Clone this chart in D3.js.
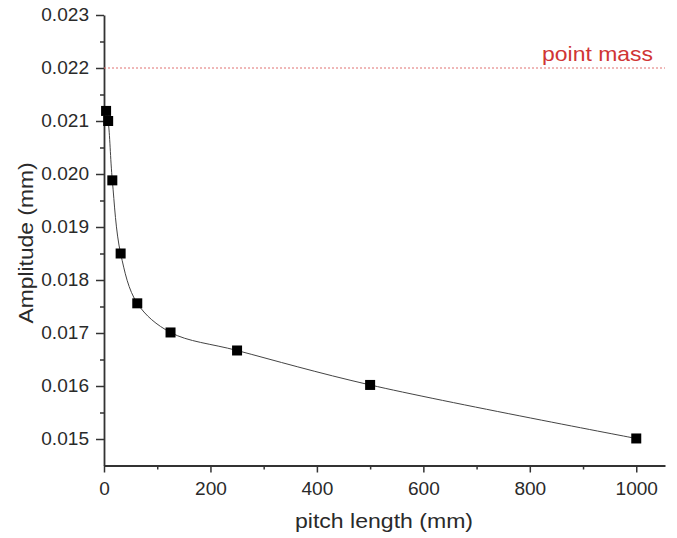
<!DOCTYPE html>
<html lang="en">
<head>
    <meta charset="utf-8" />
    <title>Amplitude vs pitch length</title>
    <script src="https://d3js.org/d3.v7.min.js"></script>
    <style>
        body { margin: 0; background: #fff; }
        text { font-family: "Liberation Sans", Arial, sans-serif; fill: #2a2a2a; }
    </style>
</head>
<body>
    <div id="chart"></div>
    <script>
        // data
        const pitchLength = [3.90625, 7.8125, 15.625, 31.25, 62.5, 125, 250, 500, 1000];
        const amplitude = [0.02119, 0.02100, 0.01988, 0.01850, 0.01756, 0.01701, 0.01667, 0.01602, 0.01501];
        const pointMass = 0.022;
        const xTicks = [0, 200, 400, 600, 800, 1000];
        const yTicks = [0.015, 0.016, 0.017, 0.018, 0.019, 0.020, 0.021, 0.022, 0.023];

        const W = 677, H = 538;
        const svg = d3.select("#chart").append("svg")
            .attr("width", W)
            .attr("height", H);

        const x = d3.scaleLinear().domain([0, 1054]).range([104, 665]);
        const y = d3.scaleLinear().domain([0.0145, 0.023]).range([465.5, 15]);

        const data = pitchLength.map((p, i) => ({ p: p, a: amplitude[i] }));

        // stretch text a little, the original font is wider than Arial
        function stretch(sel, k) {
            sel.each(function () {
                const w = this.getComputedTextLength();
                d3.select(this).attr("textLength", w * k).attr("lengthAdjust", "spacingAndGlyphs");
            });
        }

        // minor ticks first
        const xMinor = d3.range(100, 1001, 200);
        const yMinor = d3.range(0.0155, 0.0226, 0.001);

        svg.append("g")
            .attr("transform", `translate(0,${y(0.0145)})`)
            .call(d3.axisBottom(x).tickValues(xMinor).tickSize(4).tickFormat(""))
            .call(g => g.select(".domain").remove())
            .call(g => g.selectAll("line").attr("stroke", "#333").attr("stroke-width", 1.5));

        svg.append("g")
            .attr("transform", `translate(${x(0)},0)`)
            .call(d3.axisLeft(y).tickValues(yMinor).tickSize(4).tickFormat(""))
            .call(g => g.select(".domain").remove())
            .call(g => g.selectAll("line").attr("stroke", "#333").attr("stroke-width", 1.5));

        // major axes
        const gx = svg.append("g")
            .attr("transform", `translate(0,${y(0.0145)})`)
            .call(d3.axisBottom(x).tickValues(xTicks).tickSize(7).tickSizeOuter(0).tickPadding(10).tickFormat(d3.format("d")));
        gx.select(".domain").attr("stroke", "#333").attr("stroke-width", 1.8);
        gx.selectAll("line").attr("stroke", "#333").attr("stroke-width", 1.5);
        gx.selectAll("text").attr("font-size", 17.5).attr("fill", "#2a2a2a").attr("font-family", "Liberation Sans, Arial, sans-serif");

        const gy = svg.append("g")
            .attr("transform", `translate(${x(0)},0)`)
            .call(d3.axisLeft(y).tickValues(yTicks).tickSize(8).tickSizeOuter(0).tickPadding(7).tickFormat(d3.format(".3f")));
        gy.select(".domain").attr("stroke", "#333").attr("stroke-width", 1.8);
        gy.selectAll("line").attr("stroke", "#333").attr("stroke-width", 1.5);
        gy.selectAll("text").attr("font-size", 17.5).attr("fill", "#2a2a2a").attr("font-family", "Liberation Sans, Arial, sans-serif");

        stretch(gx.selectAll("text"), 1.09);
        stretch(gy.selectAll("text"), 1.09);

        // point mass reference line
        svg.append("line")
            .attr("x1", x(0)).attr("x2", x(1054))
            .attr("y1", y(pointMass)).attr("y2", y(pointMass))
            .attr("stroke", "#e07070")
            .attr("stroke-width", 1)
            .attr("stroke-dasharray", "2,2");

        svg.append("text")
            .attr("x", 653)
            .attr("y", y(pointMass) - 7)
            .attr("text-anchor", "end")
            .attr("font-size", 21)
            .style("fill", "#d03535")
            .text("point mass")
            .attr("textLength", 111)
            .attr("lengthAdjust", "spacingAndGlyphs");

        // curve (close to straight segments like the original)
        const line = d3.line()
            .x(d => x(d.p))
            .y(d => y(d.a))
            .curve(d3.curveCatmullRom.alpha(0.5));

        svg.append("path")
            .datum(data)
            .attr("fill", "none")
            .attr("stroke", "#444")
            .attr("stroke-width", 1)
            .attr("d", line);

        // square markers
        svg.selectAll(".pt")
            .data(data)
            .enter().append("rect")
            .attr("class", "pt")
            .attr("x", d => x(d.p) - 5)
            .attr("y", d => y(d.a) - 5)
            .attr("width", 10)
            .attr("height", 10)
            .attr("fill", "#000");

        // axis titles
        svg.append("text")
            .attr("x", 384)
            .attr("y", 528)
            .attr("text-anchor", "middle")
            .attr("font-size", 21)
            .text("pitch length (mm)")
            .attr("textLength", 178)
            .attr("lengthAdjust", "spacingAndGlyphs");

        svg.append("text")
            .attr("transform", "translate(33,243) rotate(-90)")
            .attr("text-anchor", "middle")
            .attr("font-size", 21)
            .text("Amplitude (mm)")
            .attr("textLength", 161)
            .attr("lengthAdjust", "spacingAndGlyphs");
    </script>
</body>
</html>
